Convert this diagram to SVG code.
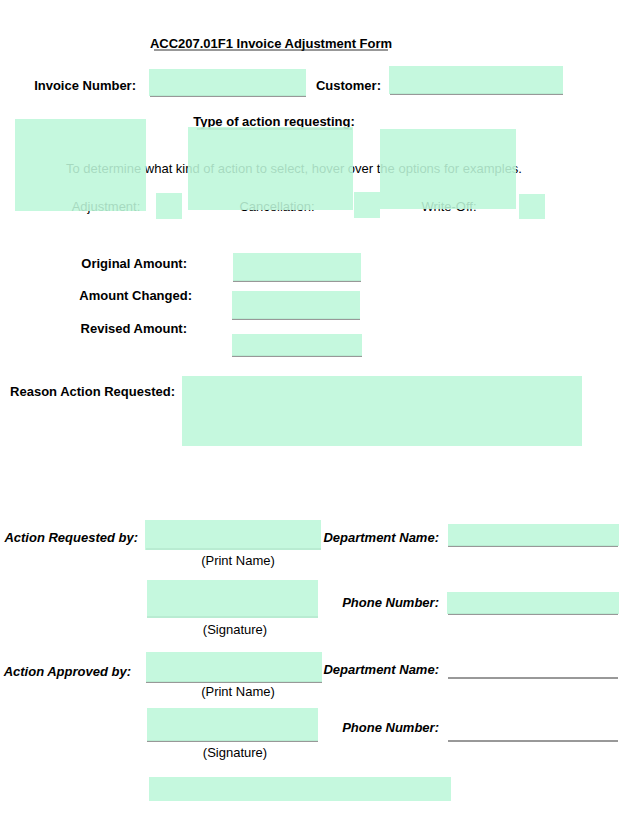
<svg xmlns="http://www.w3.org/2000/svg" width="640" height="828" viewBox="0 0 640 828">
<style>
text{font-family:"Liberation Sans",Arial,sans-serif;font-size:13px;fill:#000}
.b{font-weight:bold}
.bi{font-weight:bold;font-style:italic}
.f{fill:#bdf7da;opacity:0.88}
.l{stroke:#333;stroke-width:1}
</style>
<rect width="640" height="828" fill="#fff"/>
<g id="header">
<text x="271" y="48" class="b" text-anchor="middle">ACC207.01F1 Invoice Adjustment Form</text>
<line class="l" x1="154" y1="50" x2="388" y2="50"/>
<text x="136" y="90" class="b" text-anchor="end">Invoice Number:</text>
<text x="381" y="90" class="b" text-anchor="end">Customer:</text>
<line class="l" x1="150" y1="96" x2="306" y2="96"/>
<line class="l" x1="390" y1="94" x2="563" y2="94"/>
<text x="274" y="126" class="b" text-anchor="middle">Type of action requesting:</text>
<line class="l" x1="197" y1="129" x2="352" y2="129"/>
<text x="294" y="173" text-anchor="middle">To determine what kind of action to select, hover over the options for examples.</text>
<text x="106" y="211" text-anchor="middle">Adjustment:</text>
<text x="277" y="211" text-anchor="middle">Cancellation:</text>
<text x="449" y="211" text-anchor="middle">Write-Off:</text>
</g>
<g id="amounts">
<text x="187" y="268" class="b" text-anchor="end">Original Amount:</text>
<text x="192" y="300" class="b" text-anchor="end">Amount Changed:</text>
<text x="187" y="333" class="b" text-anchor="end">Revised Amount:</text>
<line class="l" x1="233" y1="281" x2="361" y2="281"/>
<line class="l" x1="232" y1="319" x2="360" y2="319"/>
<line class="l" x1="232" y1="356" x2="362" y2="356"/>
<text x="175" y="396" class="b" text-anchor="end">Reason Action Requested:</text>
</g>
<g id="people">
<text x="138" y="542" class="bi" text-anchor="end">Action Requested by:</text>
<text x="439" y="542" class="bi" text-anchor="end">Department Name:</text>
<text x="238" y="565" text-anchor="middle">(Print Name)</text>
<text x="439" y="607" class="bi" text-anchor="end">Phone Number:</text>
<text x="235" y="634" text-anchor="middle">(Signature)</text>
<text x="131" y="676" class="bi" text-anchor="end">Action Approved by:</text>
<text x="439" y="674" class="bi" text-anchor="end">Department Name:</text>
<text x="238" y="696" text-anchor="middle">(Print Name)</text>
<text x="439" y="732" class="bi" text-anchor="end">Phone Number:</text>
<text x="235" y="757" text-anchor="middle">(Signature)</text>
<line class="l" x1="146" y1="549" x2="321" y2="549"/>
<line class="l" x1="448" y1="546" x2="618" y2="546"/>
<line class="l" x1="147" y1="617" x2="318" y2="617"/>
<line class="l" x1="448" y1="614" x2="618" y2="614"/>
<line class="l" x1="146" y1="682" x2="322" y2="682"/>
<line class="l" x1="448" y1="678" x2="618" y2="678"/>
<line class="l" x1="147" y1="741" x2="318" y2="741"/>
<line class="l" x1="448" y1="741" x2="618" y2="741"/>
</g>
<g id="fields">
<rect class="f" x="149" y="69" width="157" height="27"/>
<rect class="f" x="389" y="66" width="174" height="28"/>
<rect class="f" x="15" y="119" width="131" height="92"/>
<rect class="f" x="188" y="127" width="165" height="83"/>
<rect class="f" x="380" y="129" width="136" height="80"/>
<rect class="f" x="156" y="193" width="26" height="26"/>
<rect class="f" x="354" y="192" width="26" height="26"/>
<rect class="f" x="519" y="194" width="26" height="25"/>
<rect class="f" x="233" y="253" width="128" height="28"/>
<rect class="f" x="232" y="291" width="128" height="28"/>
<rect class="f" x="232" y="334" width="130" height="22"/>
<rect class="f" x="182" y="376" width="400" height="70"/>
<rect class="f" x="145" y="520" width="176" height="30"/>
<rect class="f" x="448" y="524" width="171" height="22"/>
<rect class="f" x="147" y="580" width="171" height="38"/>
<rect class="f" x="447" y="592" width="172" height="22"/>
<rect class="f" x="146" y="652" width="176" height="30"/>
<rect class="f" x="147" y="708" width="171" height="33"/>
<rect class="f" x="149" y="777" width="302" height="24"/>
</g>
</svg>
